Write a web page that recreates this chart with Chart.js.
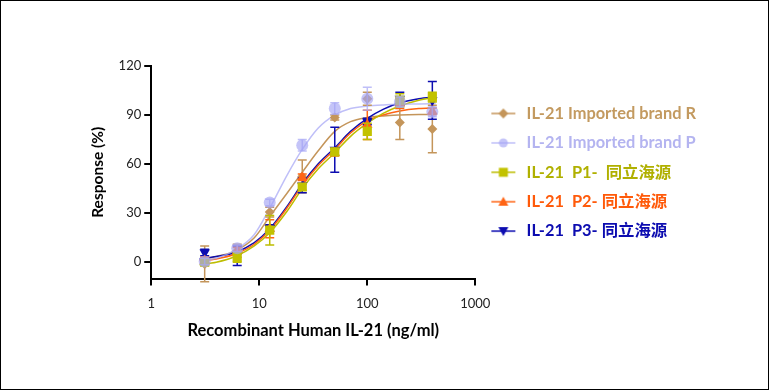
<!DOCTYPE html>
<html><head><meta charset="utf-8">
<script src="https://cdn.jsdelivr.net/npm/chart.js@4.4.0/dist/chart.umd.min.js"></script>
<style>
html,body{margin:0;padding:0;background:#fff;}
#wrap{width:769px;height:390px;box-sizing:border-box;border:1px solid #000;background:#fff;}
canvas{display:block;}
</style></head><body>
<div id="wrap"><canvas id="c" width="767" height="388"></canvas></div>
<script>
// ---- data ----
const concentrations = [3.125, 6.25, 12.5, 25, 50, 100, 200, 400];

const brandR    = [-1, 7, 30.7, 52.5, 88.5, 100, 85.5, 81.5];
const brandR_sd = [11, 4, 3, 10, 1.5, 4, 10.5, 14.5];
const brandP    = [0.5, 8.5, 36.5, 71.5, 94, 100, 98, 92];
const brandP_sd = [2, 2, 2, 3.5, 3.5, 7, 3, 3];
const p1        = [0, 3, 19.6, 46, 67.5, 80, 99, 101];
const p1_sd     = [2, 3, 9, 2, 2, 5, 4, 3];
const p2        = [1, 7, 20.5, 52, 67, 84, 97, 92.3];
const p2_sd     = [2, 2, 5.5, 2, 2, 9, 3, 2];
const p3        = [6, 4, 21, 47, 68.8, 86, 100, 99];
const p3_sd     = [2, 6, 2, 4.5, 13.8, 2, 4, 11.5];

// fitted curves
const curveX     = [2.8, 4, 6, 9, 12.5, 18, 25, 35, 50, 70, 100, 140, 200, 300, 430];
const brandR_fit = [1.5, 3.5, 7, 15, 28, 42, 55, 68, 80, 86, 88.5, 89.5, 90, 90.3, 90.4];
const brandP_fit = [1, 2.5, 7.5, 17, 33, 53, 69, 82, 90, 94, 95.5, 96.2, 96.6, 96.8, 97];
const p1_fit     = [-1.5, 0, 3.5, 10, 18, 31, 45, 57, 67, 77, 85, 91, 95.5, 99, 101];
const p2_fit     = [1, 2, 5, 11, 19.5, 33, 47, 59, 69, 79, 86.5, 90, 92.5, 94, 94.5];
const p3_fit     = [2, 3.5, 6, 12, 20.5, 34, 48, 60, 70, 80, 88, 93.5, 97.5, 100, 101];

const xTicks = [1, 10, 100, 1000];
const yTicks = [0, 30, 60, 90, 120];

const seriesNames = ['IL-21 Imported brand R', 'IL-21 Imported brand P', 'IL-21  P1-  同立海源', 'IL-21  P2- 同立海源', 'IL-21  P3- 同立海源'];

// ---- styles ----
const series = [
  {name: seriesNames[0], vals: brandR, sd: brandR_sd, fit: brandR_fit, color: '#c4955a', text: '#c39a60', point: 'rectRot', r: 5, rot: 0, fill: '#c4955a', order: 4},
  {name: seriesNames[1], vals: brandP, sd: brandP_sd, fit: brandP_fit, color: 'rgba(170,170,245,0.75)', text: '#b4b4f0', point: 'circle', r: 6, rot: 0, fill: 'rgba(165,165,245,0.65)', order: 0},
  {name: seriesNames[2], vals: p1, sd: p1_sd, fit: p1_fit, color: '#bdbd00', text: '#b0b000', point: 'rect', r: 6.5, rot: 0, fill: '#c2c200', order: 1},
  {name: seriesNames[3], vals: p2, sd: p2_sd, fit: p2_fit, color: '#ff6414', text: '#ff5a0a', point: 'triangle', r: 6, rot: 0, fill: '#ff6414', order: 2},
  {name: seriesNames[4], vals: p3, sd: p3_sd, fit: p3_fit, color: '#0c0cb0', text: '#0c0cb0', point: 'triangle', r: 6, rot: 180, fill: '#0c0cb0', order: 3}
];

const FONT = "Lato, 'Noto Sans CJK SC', sans-serif";

function makeIcon(s) {
  const c = document.createElement('canvas');
  c.width = 26; c.height = 14;
  const g = c.getContext('2d');
  g.strokeStyle = s.color; g.lineWidth = 1.5;
  g.beginPath(); g.moveTo(1, 7); g.lineTo(25, 7); g.stroke();
  g.fillStyle = s.fill;
  g.beginPath();
  const cx = 13, cy = 7;
  if (s.point === 'circle') { g.arc(cx, cy, 4.5, 0, Math.PI * 2); }
  else if (s.point === 'rect') { g.rect(cx - 4.5, cy - 4.5, 9, 9); }
  else if (s.point === 'rectRot') { g.moveTo(cx, cy - 5); g.lineTo(cx + 5, cy); g.lineTo(cx, cy + 5); g.lineTo(cx - 5, cy); g.closePath(); }
  else if (s.rot === 180) { g.moveTo(cx - 5, cy - 4); g.lineTo(cx + 5, cy - 4); g.lineTo(cx, cy + 5); g.closePath(); }
  else { g.moveTo(cx - 5, cy + 4); g.lineTo(cx + 5, cy + 4); g.lineTo(cx, cy - 5); g.closePath(); }
  g.fill();
  return c;
}
const icons = series.map(makeIcon);

const datasets = [];
series.forEach((s, i) => {
  datasets.push({
    label: s.name,
    data: concentrations.map((x, k) => ({x: x, y: s.vals[k]})),
    sd: s.sd,
    showLine: false,
    pointStyle: s.point,
    pointRotation: s.rot,
    pointRadius: s.r,
    pointHoverRadius: s.r,
    pointBackgroundColor: s.fill,
    pointBorderColor: s.fill,
    pointBorderWidth: 0,
    borderColor: s.color,
    errColor: s.color,
    order: s.order
  });
});
series.forEach((s, i) => {
  datasets.push({
    label: s.name + ' fit',
    data: curveX.map((x, k) => ({x: x, y: s.fit[k]})),
    showLine: true,
    pointRadius: 0,
    borderColor: s.color,
    borderWidth: 1.5,
    cubicInterpolationMode: 'monotone',
    fill: false,
    order: 5 + s.order
  });
});

const errorBars = {
  id: 'errorBars',
  beforeDatasetDraw(chart, args) {
    const ds = chart.data.datasets[args.index];
    if (!ds.sd) return;
    const meta = args.meta;
    const ys = chart.scales.y;
    const ctx = chart.ctx;
    ctx.save();
    ctx.strokeStyle = ds.errColor;
    ctx.lineWidth = 1.5;
    meta.data.forEach((pt, k) => {
      const v = ds.data[k].y, e = ds.sd[k];
      const y1 = ys.getPixelForValue(v + e), y2 = ys.getPixelForValue(v - e);
      const x = pt.x;
      ctx.beginPath();
      ctx.moveTo(x, y1); ctx.lineTo(x, y2);
      ctx.moveTo(x - 4.5, y1); ctx.lineTo(x + 4.5, y1);
      ctx.moveTo(x - 4.5, y2); ctx.lineTo(x + 4.5, y2);
      ctx.stroke();
    });
    ctx.restore();
  }
};

new Chart(document.getElementById('c'), {
  type: 'line',
  data: {datasets: datasets},
  plugins: [errorBars],
  options: {
    responsive: false,
    animation: false,
    layout: {padding: {left: 88, right: 62, top: 65, bottom: 48}},
    plugins: {
      tooltip: {enabled: false},
      legend: {
        position: 'right',
        align: 'center',
        fullSize: false,
        maxWidth: 280,
        labels: {
          usePointStyle: true,
          pointStyleWidth: 30,
          padding: 13,
          font: {family: FONT, size: 16.4, weight: 'bold'},
          generateLabels: () => series.map((s, i) => ({
            text: s.name, fontColor: s.text, pointStyle: icons[i], datasetIndex: i,
            hidden: false, lineWidth: 0, strokeStyle: 'rgba(0,0,0,0)', fillStyle: 'rgba(0,0,0,0)'
          }))
        }
      }
    },
    scales: {
      x: {
        type: 'logarithmic', min: 1, max: 1000, position: 'bottom',
        afterBuildTicks: sc => { sc.ticks = xTicks.map(v => ({value: v})); },
        ticks: {callback: v => String(v), color: '#222', font: {family: FONT, size: 13}, padding: 10, autoSkip: false, maxRotation: 0},
        grid: {display: true, drawOnChartArea: false, drawTicks: true, tickLength: 7, color: '#000', lineWidth: 2},
        border: {display: true, color: '#000', width: 2},
        title: {display: true, text: 'Recombinant Human IL-21 (ng/ml)', color: '#000', font: {family: FONT, size: 16.5, weight: 'bold'}, padding: {top: 0, bottom: 0}}
      },
      y: {
        type: 'linear', min: -10, max: 120,
        afterBuildTicks: sc => { sc.ticks = yTicks.map(v => ({value: v})); },
        ticks: {color: '#222', font: {family: FONT, size: 13}, padding: 3},
        grid: {display: true, drawOnChartArea: false, drawTicks: true, tickLength: 7, color: '#000', lineWidth: 2},
        border: {display: true, color: '#000', width: 2},
        title: {display: true, text: 'Response (%)', color: '#000', font: {family: FONT, size: 15.5, weight: 'bold'}, padding: {top: 0, bottom: 8}}
      }
    }
  }
});
</script>
</body></html>
